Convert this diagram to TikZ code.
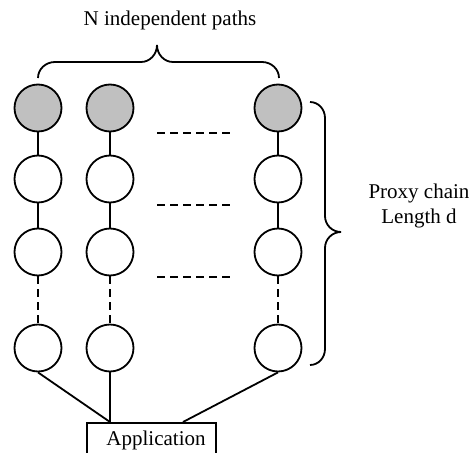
\documentclass[tikz,border=0pt]{standalone}
\usepackage{fontspec}
\setmainfont{Liberation Serif}
\definecolor{proxygray}{RGB}{192,192,192}
\begin{document}
\begin{tikzpicture}[x=1pt,y=-1pt,line width=1.8pt,
  proxy/.style={circle,draw,fill=white,minimum size=47pt,inner sep=0pt},
  entry/.style={proxy,fill=proxygray},
  dotlink/.style={dashed,dash pattern=on 8pt off 5pt},
  lbl/.style={font=\fontsize{21}{25}\selectfont,inner sep=0pt},
  appbox/.style={draw,minimum width=129pt,minimum height=60pt,anchor=north,inner sep=0pt}]
\useasboundingbox (0,0) rectangle (472,453);
\clip (0,0) rectangle (472,453);

% proxy chains: three columns, four rows
\foreach \c/\x in {1/38,2/110,3/278}{
  \node[entry] (n1\c) at (\x,108) {};
  \node[proxy] (n2\c) at (\x,179) {};
  \node[proxy] (n3\c) at (\x,252) {};
  \node[proxy] (n4\c) at (\x,348) {};
  \draw (n1\c) -- (n2\c);
  \draw (n2\c) -- (n3\c);
  \draw[dotlink] (n3\c) -- (n4\c);
}

% elided columns between the second and last chains
\foreach \y in {133,205,277}{
  \draw[dotlink] (157,\y) -- (230,\y);
}

% application endpoint
\node[appbox] (app) at (151.5,422) {};
\node[lbl,anchor=base] (apptext) at (156,445) {Application};
\coordinate (appl) at (110,422);
\coordinate (appr) at (183,422);
\draw (n41.south) -- (appl);
\draw (n42.south) -- (appl);
\draw (n43.south) -- (appr);

% top brace and label
\draw (38,78) to[out=90,in=180] (55,62) -- (141,62)
      to[out=0,in=-90] (157,45) to[out=-90,in=180] (173,62)
      -- (262,62) to[out=0,in=90] (279,78);
\node[lbl] (ntitle) at (170,20) {N independent paths};

% right brace and label
\draw (310,102) to[out=0,in=90] (325,118) -- (325,216)
      to[out=-90,in=180] (341,232) to[out=180,in=90] (325,248)
      -- (325,349) to[out=-90,in=0] (310,365);
\node[lbl,align=center] (chain) at (419,206) {Proxy chain\\Length d};
\end{tikzpicture}
\end{document}
